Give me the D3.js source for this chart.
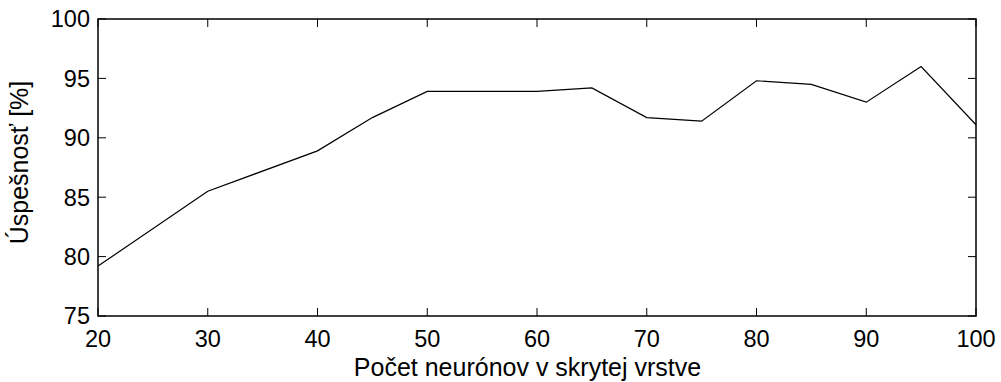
<!DOCTYPE html>
<html><head><meta charset="utf-8">
<script src="https://cdn.jsdelivr.net/npm/d3@7"></script>
<style>body{margin:0;background:#fff}svg{display:block}text{font-family:"Liberation Sans",Arial,sans-serif;fill:#000}</style>
</head><body>
<svg id="c" width="1001" height="382"></svg>
<script>
const neurons = [20, 30, 40, 45, 50, 60, 65, 70, 75, 80, 85, 90, 95, 100];
const accuracy = [79.2, 85.5, 88.9, 91.7, 93.9, 93.9, 94.2, 91.7, 91.4, 94.8, 94.5, 93.0, 96.0, 91.1];
const xTicks = [20, 30, 40, 50, 60, 70, 80, 90, 100];
const yTicks = [75, 80, 85, 90, 95, 100];
const xLabel = "Počet neurónov v skrytej vrstve";
const yLabel = "Úspešnosť [%]";

const svg = d3.select("#c");
const L = 98, R = 976, T = 19, B = 316;
const x = d3.scaleLinear().domain([20, 100]).range([L, R]);
const y = d3.scaleLinear().domain([75, 100]).range([B, T]);
const fs = 23.5, fl = 25, tl = 8;

const g = svg.append("g");
xTicks.forEach(v => {
  g.append("line").attr("x1", x(v)).attr("x2", x(v)).attr("y1", B).attr("y2", B - tl).attr("stroke", "#000");
  g.append("line").attr("x1", x(v)).attr("x2", x(v)).attr("y1", T).attr("y2", T + tl).attr("stroke", "#000");
  g.append("text").attr("x", x(v)).attr("y", 346.5).attr("text-anchor", "middle").attr("font-size", fs).text(v);
});
yTicks.forEach(v => {
  g.append("line").attr("x1", L).attr("x2", L + tl).attr("y1", y(v)).attr("y2", y(v)).attr("stroke", "#000");
  g.append("line").attr("x1", R).attr("x2", R - tl).attr("y1", y(v)).attr("y2", y(v)).attr("stroke", "#000");
  g.append("text").attr("x", 90).attr("y", y(v)).attr("dy", "0.36em").attr("text-anchor", "end").attr("font-size", fs).text(v);
});
const line = d3.line().x((d, i) => x(neurons[i])).y(d => y(d));
g.append("path").datum(accuracy).attr("d", line).attr("fill", "none").attr("stroke", "#000").attr("stroke-width", 1.2);
g.append("rect").attr("x", L).attr("y", T).attr("width", R - L).attr("height", B - T)
  .attr("fill", "none").attr("stroke", "#000").attr("stroke-width", 1.5);
g.append("text").attr("x", 527.5).attr("y", 376).attr("text-anchor", "middle").attr("font-size", fl).text(xLabel);
g.append("text").attr("transform", "translate(28,162.5) rotate(-90)").attr("text-anchor", "middle").attr("font-size", fl).text(yLabel);
</script>
</body></html>
